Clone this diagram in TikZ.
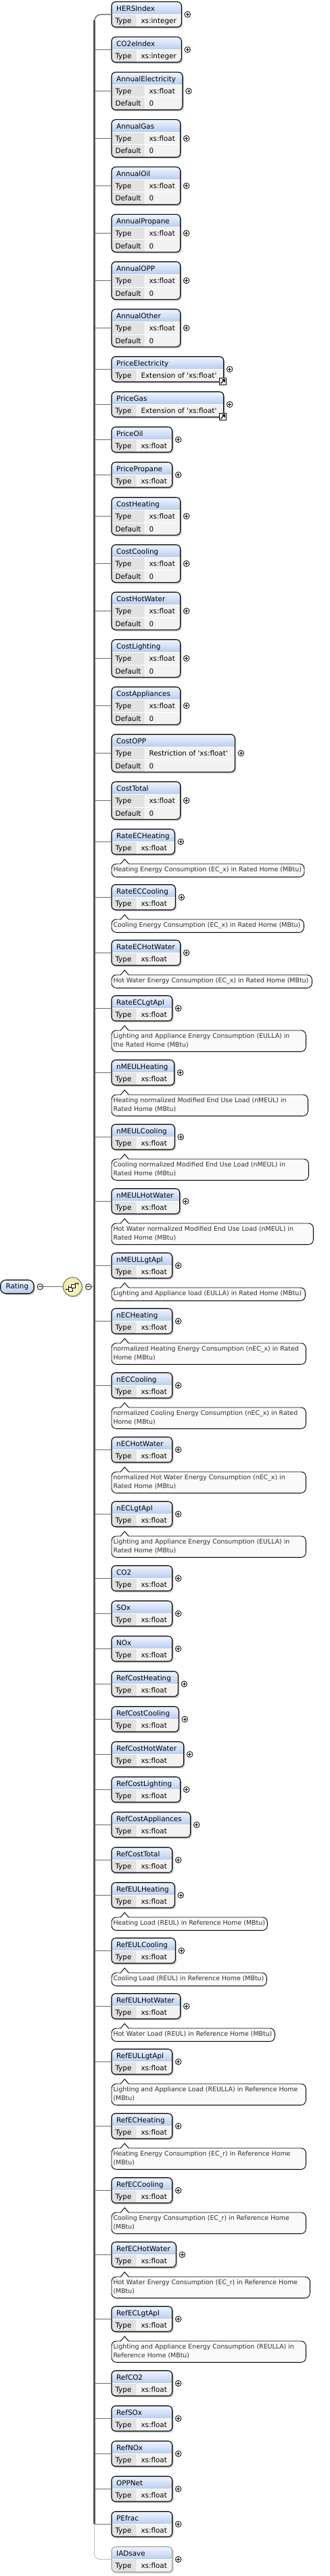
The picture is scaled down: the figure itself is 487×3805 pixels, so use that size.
\documentclass[tikz,border=0pt]{standalone}
\usepackage{fontspec}
\newfontfamily\uif{DejaVu Sans}
\newcommand\NameFont{\uif\fontsize{10.4}{12.5}\selectfont}
\newcommand\AnnFont{\uif\fontsize{9.4}{11}\selectfont}
\definecolor{busgray}{RGB}{85,85,85}
\definecolor{linegray}{RGB}{105,105,105}
\definecolor{hdtop}{RGB}{240,245,253}
\definecolor{hdbot}{RGB}{182,204,240}
\definecolor{rowfill}{RGB}{242,242,242}
\definecolor{typefill}{RGB}{226,226,226}
\definecolor{annfill}{RGB}{250,250,250}
\definecolor{anncol}{RGB}{45,45,45}
\definecolor{optgray}{RGB}{195,195,195}
\definecolor{optborder}{RGB}{165,165,165}
\definecolor{compin}{RGB}{255,253,215}
\definecolor{compout}{RGB}{240,232,160}
\definecolor{compborder}{RGB}{110,110,110}
\tikzset{
  buspath/.style={draw=busgray,line width=3pt},
  branchline/.style={draw=linegray,line width=1.4pt},
  optline/.style={draw=optgray,line width=1pt},
  nametext/.style={anchor=base west,inner sep=0pt,font=\NameFont,text=black},
  rowtext/.style={anchor=base west,inner sep=0pt,font=\NameFont,text=black},
  anntextst/.style={anchor=base west,inner sep=0pt,font=\AnnFont,text=anncol},
  pluscirc/.style={circle,draw=black,fill=white,line width=.8pt,minimum size=8.6pt,inner sep=0pt},
}
% element box: [border colour]{name}{top}{right}{type}{rows}
\newcommand\Elem[6][black]{%
 \pgfmathsetmacro\ElB{#3+(#6==3 ? 55.6 : 37.3)}%
 \pgfmathsetmacro\ElS{(#6==3 ? 214.3 : 202.3)}%
 \pgfmathsetmacro\ElH{#3+19}%
 \pgfmathsetmacro\ElM{(#3+\ElB)/2}%
 \fill[black,opacity=.2,rounded corners=6pt] (166.8,#3+2) rectangle (#4+2,\ElB+2.2);%
 \begin{scope}
  \clip[rounded corners=6pt] (165,#3) rectangle (#4,\ElB);
  \fill[rowfill] (165,\ElH) rectangle (#4,\ElB);
  \fill[typefill] (165,\ElH) rectangle (\ElS,\ElB);
  \shade[top color=hdtop,bottom color=hdbot] (165,#3) rectangle (#4,\ElH);
  \draw[white,line width=1pt] (165,\ElH) -- (#4,\ElH) (\ElS,\ElH) -- (\ElS,\ElB);
  \ifnum#6=3 \draw[white,line width=1pt] (165,\ElH+18.3) -- (#4,\ElH+18.3);\fi
 \end{scope}
 \node[inner sep=0pt,outer sep=0pt,minimum width={#4-165},minimum height={\ElB-#3},anchor=north west,draw=#1,line width=1.1pt,rounded corners=6pt] (#2) at (165,#3) {};
 \node[nametext] (#2-n) at (172,#3+14) {#2};
 \node[rowtext] (#2-tl) at (170.3,#3+31.8) {Type};
 \node[rowtext] (#2-tv) at (\ElS+6,#3+31.8) {#5};
 \ifnum#6=3
  \node[rowtext] (#2-dl) at (170.3,#3+50.3) {Default};
  \node[rowtext] (#2-dv) at (\ElS+6,#3+50.3) {0};
 \fi
 \node[pluscirc] (#2-p) at (#4+9,\ElM) {};
 \draw[line width=.8pt] (#4+6.7,\ElM) -- (#4+11.3,\ElM) (#4+9,\ElM-2.3) -- (#4+9,\ElM+2.3);
 \coordinate (#2-bus) at (139.5,\ElM);
}
% annotation: {id}{element top}{right}{lines}{line1}{line2}
\newcommand\Ann[6]{%
 \pgfmathsetmacro\AnT{#2+51.3}%
 \pgfmathsetmacro\AnB{\AnT+(#4==2 ? 31.3 : 19.3)}%
 \node[inner sep=0pt,outer sep=0pt,minimum width={#3-165},minimum height={\AnB-\AnT},anchor=north west,draw=black,line width=.9pt,fill=annfill,rounded corners=7pt] (#1-doc) at (165,\AnT) {};
 \fill[annfill] (178.3,\AnT) -- (184.3,\AnT-7) -- (190.3,\AnT) -- cycle;
 \draw[annfill,line width=1.6pt] (179,\AnT) -- (189.6,\AnT);
 \draw[black,line width=.9pt] (178.3,\AnT) -- (184.3,\AnT-7) -- (190.3,\AnT);
 \node[anntextst] (#1-d1) at (167.3,\AnT+11.2) {#5};
 \ifnum#4=2 \node[anntextst] (#1-d2) at (167.3,\AnT+24.2) {#6};\fi
}
% extension icon: {id}{right}{bottom}
\newcommand\ExtIcon[3]{%
 \node[draw=black,fill=white,line width=.8pt,minimum size=10pt,inner sep=0pt] (#1-ext) at (#2-1.4,#3-0.3) {};
 \draw[line width=1.1pt] (#2-4.4,#3+2.7) -- (#2+0.6,#3-2.3);
 \fill (#2+2.1,#3-3.8) -- (#2-2.6,#3-3.8) -- (#2+2.1,#3+0.9) -- cycle;
}
\newcommand\Q{\textquotesingle}
\begin{document}
\begin{tikzpicture}[x=1pt,y=-1pt]
\fill[white] (0,0) rectangle (487,3805);
\useasboundingbox (0,0) rectangle (487,3805);

\Elem{HERSIndex}{2.7}{268.3}{xs:integer}{2}
\Elem{CO2eIndex}{54.7}{268.3}{xs:integer}{2}
\Elem{AnnualElectricity}{106.7}{270}{xs:float}{3}
\Elem{AnnualGas}{176.7}{266.7}{xs:float}{3}
\Elem{AnnualOil}{246.7}{266.7}{xs:float}{3}
\Elem{AnnualPropane}{316.7}{266.7}{xs:float}{3}
\Elem{AnnualOPP}{386.7}{266.7}{xs:float}{3}
\Elem{AnnualOther}{456.7}{266.7}{xs:float}{3}
\Elem{PriceElectricity}{526.7}{330.7}{Extension of \Q xs:float\Q}{2}
\ExtIcon{PriceElectricity}{330.7}{564}
\Elem{PriceGas}{578.7}{330.7}{Extension of \Q xs:float\Q}{2}
\ExtIcon{PriceGas}{330.7}{616}
\Elem{PriceOil}{630.7}{254.7}{xs:float}{2}
\Elem{PricePropane}{682.7}{254.7}{xs:float}{2}
\Elem{CostHeating}{734.7}{266.7}{xs:float}{3}
\Elem{CostCooling}{804.7}{266.7}{xs:float}{3}
\Elem{CostHotWater}{874.7}{266.7}{xs:float}{3}
\Elem{CostLighting}{944.7}{266.7}{xs:float}{3}
\Elem{CostAppliances}{1014.7}{266.7}{xs:float}{3}
\Elem{CostOPP}{1084.7}{347.3}{Restriction of \Q xs:float\Q}{3}
\Elem{CostTotal}{1154.7}{266.7}{xs:float}{3}
\Elem{RateECHeating}{1224.7}{258.3}{xs:float}{2}
\Ann{RateECHeating}{1224.7}{450}{1}{Heating Energy Consumption (EC\_x) in Rated Home (MBtu)}{}
\Elem{RateECCooling}{1306.7}{259.3}{xs:float}{2}
\Ann{RateECCooling}{1306.7}{449.3}{1}{Cooling Energy Consumption (EC\_x) in Rated Home (MBtu)}{}
\Elem{RateECHotWater}{1388.7}{266.7}{xs:float}{2}
\Ann{RateECHotWater}{1388.7}{461.3}{1}{Hot Water Energy Consumption (EC\_x) in Rated Home (MBtu)}{}
\Elem{RateECLgtApl}{1470.7}{254.7}{xs:float}{2}
\Ann{RateECLgtApl}{1470.7}{452.3}{2}{Lighting and Appliance Energy Consumption (EULLA) in}{the Rated Home (MBtu)}
\Elem{nMEULHeating}{1565.7}{257.7}{xs:float}{2}
\Ann{nMEULHeating}{1565.7}{455.3}{2}{Heating normalized Modified End Use Load (nMEUL) in}{Rated Home (MBtu)}
\Elem{nMEULCooling}{1660.7}{258.3}{xs:float}{2}
\Ann{nMEULCooling}{1660.7}{456.3}{2}{Cooling normalized Modified End Use Load (nMEUL) in}{Rated Home (MBtu)}
\Elem{nMEULHotWater}{1755.7}{265.7}{xs:float}{2}
\Ann{nMEULHotWater}{1755.7}{463.3}{2}{Hot Water normalized Modified End Use Load (nMEUL) in}{Rated Home (MBtu)}
\Elem{nMEULLgtApl}{1850.7}{254.7}{xs:float}{2}
\Ann{nMEULLgtApl}{1850.7}{451.3}{1}{Lighting and Appliance load (EULLA) in Rated Home (MBtu)}{}
\Elem{nECHeating}{1932.7}{254.7}{xs:float}{2}
\Ann{nECHeating}{1932.7}{452.3}{2}{normalized Heating Energy Consumption (nEC\_x) in Rated}{Home (MBtu)}
\Elem{nECCooling}{2027.7}{254.7}{xs:float}{2}
\Ann{nECCooling}{2027.7}{452.3}{2}{normalized Cooling Energy Consumption (nEC\_x) in Rated}{Home (MBtu)}
\Elem{nECHotWater}{2122.7}{254.7}{xs:float}{2}
\Ann{nECHotWater}{2122.7}{452.3}{2}{normalized Hot Water Energy Consumption (nEC\_x) in}{Rated Home (MBtu)}
\Elem{nECLgtApl}{2217.7}{254.7}{xs:float}{2}
\Ann{nECLgtApl}{2217.7}{452.3}{2}{Lighting and Appliance Energy Consumption (EULLA) in}{Rated Home (MBtu)}
\Elem{CO2}{2312.7}{254.7}{xs:float}{2}
\Elem{SOx}{2364.7}{254.7}{xs:float}{2}
\Elem{NOx}{2416.7}{254.7}{xs:float}{2}
\Elem{RefCostHeating}{2468.7}{263.3}{xs:float}{2}
\Elem{RefCostCooling}{2520.7}{264.3}{xs:float}{2}
\Elem{RefCostHotWater}{2572.7}{271.7}{xs:float}{2}
\Elem{RefCostLighting}{2624.7}{266.7}{xs:float}{2}
\Elem{RefCostAppliances}{2676.7}{281.7}{xs:float}{2}
\Elem{RefCostTotal}{2728.7}{254.7}{xs:float}{2}
\Elem{RefEULHeating}{2780.7}{258.3}{xs:float}{2}
\Ann{RefEULHeating}{2780.7}{395.3}{1}{Heating Load (REUL) in Reference Home (MBtu)}{}
\Elem{RefEULCooling}{2862.7}{259.3}{xs:float}{2}
\Ann{RefEULCooling}{2862.7}{394.3}{1}{Cooling Load (REUL) in Reference Home (MBtu)}{}
\Elem{RefEULHotWater}{2944.7}{266.7}{xs:float}{2}
\Ann{RefEULHotWater}{2944.7}{406.3}{1}{Hot Water Load (REUL) in Reference Home (MBtu)}{}
\Elem{RefEULLgtApl}{3026.7}{254.7}{xs:float}{2}
\Ann{RefEULLgtApl}{3026.7}{452.3}{2}{Lighting and Appliance Load (REULLA) in Reference Home}{(MBtu)}
\Elem{RefECHeating}{3121.7}{254.7}{xs:float}{2}
\Ann{RefECHeating}{3121.7}{452.3}{2}{Heating Energy Consumption (EC\_r) in Reference Home}{(MBtu)}
\Elem{RefECCooling}{3216.7}{254.7}{xs:float}{2}
\Ann{RefECCooling}{3216.7}{452.3}{2}{Cooling Energy Consumption (EC\_r) in Reference Home}{(MBtu)}
\Elem{RefECHotWater}{3311.7}{260.3}{xs:float}{2}
\Ann{RefECHotWater}{3311.7}{458.3}{2}{Hot Water Energy Consumption (EC\_r) in Reference Home}{(MBtu)}
\Elem{RefECLgtApl}{3406.7}{254.7}{xs:float}{2}
\Ann{RefECLgtApl}{3406.7}{452.3}{2}{Lighting and Appliance Energy Consumption (REULLA) in}{Reference Home (MBtu)}
\Elem{RefCO2}{3501.7}{254.7}{xs:float}{2}
\Elem{RefSOx}{3553.7}{254.7}{xs:float}{2}
\Elem{RefNOx}{3605.7}{254.7}{xs:float}{2}
\Elem{OPPNet}{3657.7}{254.7}{xs:float}{2}
\Elem{PEfrac}{3709.7}{254.7}{xs:float}{2}
\Elem[optborder]{IADsave}{3761.7}{254.7}{xs:float}{2}

% bus and branches
\coordinate (busTop) at (139.5,30);
\coordinate (ratingbus) at (139.5,1900.7);
\draw[buspath] (busTop) -- (PEfrac-bus);
\draw[branchline,rounded corners=10pt] (HERSIndex.west) -| (busTop);
\foreach \n in {CO2eIndex,AnnualElectricity,AnnualGas,AnnualOil,AnnualPropane,AnnualOPP,AnnualOther,PriceElectricity,PriceGas,PriceOil,PricePropane,CostHeating,CostCooling,CostHotWater,CostLighting,CostAppliances,CostOPP,CostTotal,RateECHeating,RateECCooling,RateECHotWater,RateECLgtApl,nMEULHeating,nMEULCooling,nMEULHotWater,nMEULLgtApl,nECHeating,nECCooling,nECHotWater,nECLgtApl,CO2,SOx,NOx,RefCostHeating,RefCostCooling,RefCostHotWater,RefCostLighting,RefCostAppliances,RefCostTotal,RefEULHeating,RefEULCooling,RefEULHotWater,RefEULLgtApl,RefECHeating,RefECCooling,RefECHotWater,RefECLgtApl,RefCO2,RefSOx,RefNOx,OPPNet,PEfrac}
  \draw[branchline] (\n-bus) -- (\n.west);
\draw[optline,rounded corners=8pt] (PEfrac-bus) |- (IADsave.west);

% root element and sequence compositor
\fill[black,opacity=.2,rounded corners=8pt] (2.5,1892.7) rectangle (52,1912.9);
\node[draw=black,line width=1.1pt,rounded corners=8pt,top color=hdtop,bottom color=hdbot,minimum width=49.3pt,minimum height=20pt,inner sep=0pt,font=\NameFont] (Rating) at (25.35,1900.7) {Rating};
\node[pluscirc] (rminus) at (59.3,1900.7) {};
\draw[line width=.8pt] (57,1900.7) -- (61.6,1900.7);
\fill[black,opacity=.18] (108.8,1902.4) circle[radius=14pt];
\node[circle,draw=compborder,line width=1pt,inner color=compin,outer color=compout,minimum size=28pt,inner sep=0pt] (seq) at (107.3,1900.7) {};
\draw[line width=.7pt] (97.8,1904.5) -- (101.5,1904.5);
\fill (97.8,1904.5) circle[radius=1pt];
\draw[fill=white,line width=.8pt] (101.5,1901.5) rectangle (107,1907);
\draw[fill=white,line width=.8pt] (105.5,1897) rectangle (111,1902.5);
\draw[line width=.7pt] (111,1897) -- (111,1895) -- (115.5,1895) -- (115.5,1898);
\draw[line width=.7pt] (101.5,1899) -- (101.5,1901.5);
\node[pluscirc] (sminus) at (130.7,1900.7) {};
\draw[line width=.8pt] (128.4,1900.7) -- (133,1900.7);
\draw[branchline] (rminus.east) -- (seq.west);
\draw[branchline] (sminus.east) -- (ratingbus);
\end{tikzpicture}
\end{document}
